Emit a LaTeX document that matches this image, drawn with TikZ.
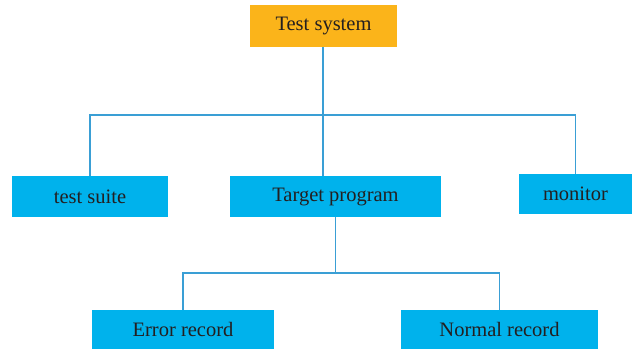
\documentclass[tikz,border=0pt]{standalone}
\usepackage{fontspec}
\setmainfont{Liberation Serif}
\definecolor{sysorange}{HTML}{FBB41A}
\definecolor{boxblue}{HTML}{00B2EC}
\definecolor{lineblue}{HTML}{3A9FD5}
\definecolor{txtgray}{HTML}{231F20}
\tikzset{
  box/.style={fill=boxblue,text=txtgray,inner sep=0pt,minimum height=41pt,
    font=\fontsize{20.5}{23}\selectfont},
  sysbox/.style={box,fill=sysorange,minimum height=42pt},
  link/.style={draw=lineblue,line width=1.3pt}
}
\begin{document}
\begin{tikzpicture}[x=1pt,y=-1pt]
  \useasboundingbox(0,0)rectangle(635,349);
  % top level
  \node[sysbox,minimum width=147pt](sys)at(323.5,26){Test system};
  % second level
  \node[box,minimum width=156pt](suite)at(90,196.5){test suite};
  \node[box,minimum width=211pt](target)at(335.5,196.5){Target program};
  \node[box,minimum width=113pt,minimum height=40pt](monitor)at(575.5,194){monitor};
  % third level
  \node[box,minimum width=182pt,minimum height=39pt](error)at(183,329.5){Error record};
  \node[box,minimum width=197pt,minimum height=39pt](normal)at(499.5,329.5){Normal record};
  % connectors
  \coordinate(j1)at(323,115);
  \coordinate(j2)at(335.5,273);
  \draw[link](sys.south-|j1)--(j1);
  \draw[link](suite.north)|-(j1)-|(monitor.north);
  \draw[link](j1)--(j1|-target.north);
  \draw[link](target.south-|j2)--(j2);
  \draw[link](error.north)|-(j2)-|(normal.north);
\end{tikzpicture}
\end{document}
